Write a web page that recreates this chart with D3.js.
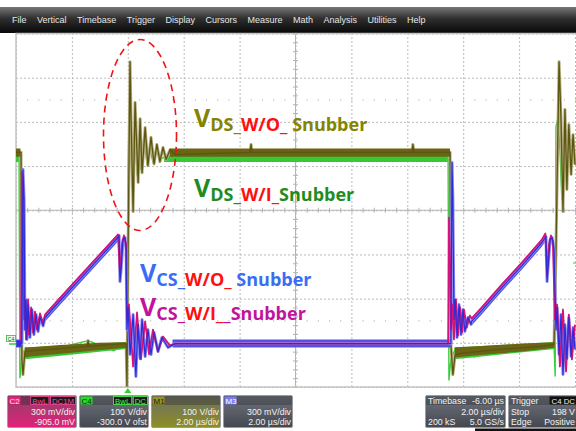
<!DOCTYPE html>
<html>
<head>
<meta charset="utf-8">
<script src="https://cdn.jsdelivr.net/npm/d3@7"></script>
<style>
  body { margin: 0; background: #fff; }
  svg { display: block; }
</style>
</head>
<body>
<svg></svg>
<script>
// menu + status box texts
const menuItems = ['File', 'Vertical', 'Timebase', 'Trigger', 'Display', 'Cursors', 'Measure', 'Math', 'Analysis', 'Utilities', 'Help']
const chanNames = ['C2', 'C4', 'M1', 'M3']
const chanTags = [['BwL', 'DC1M'], ['BwL', 'DC'], [], []]
const chanLine1 = ['300 mV/div', '100 V/div', '100 V/div', '300 mV/div']
const chanLine2 = ['-905.0 mV', '-300.0 V ofst', '2.00 µs/div', '2.00 µs/div']
const tbHeader = ['Timebase', '-6.00 µs']
const tbRows = [['', '2.00 µs/div'], ['200 kS', '5.0 GS/s']]
const trigHeader = ['Trigger', 'C4 DC']
const trigRows = [['Stop', '198 V'], ['Edge', 'Positive']]

// graticule: 2 us/div, 100 V/div (centre 300 V)
const divTimes = [-4, -2, 0, 2, 4, 6, 8, 10, 12, 14, 16]
const divVolts = [-100, 0, 100, 200, 300, 400, 500, 600, 700]

// label texts (big V + subscript pieces)
const labelSubs = [
  ['DS_', 'W/O_', '\u00a0Snubber'],
  ['DS_', 'W/I_', 'Snubber'],
  ['CS_', 'W/O_', '\u00a0Snubber'],
  ['CS_', 'W/I_', '_Snubber']
]

// VDS without snubber (M1), [time us, volts]
const vdsWo = [
  [-4.0, 431], [-3.86, 431], [-3.82, 431], [-3.79, -38], [-3.75, -72], [-3.71, -42], [-3.68, -19],
  [-3.5, -19], [-2.43, -13], [-1.46, -8], [-1.42, 5], [-1.39, -8], [-0.99, -6], [-0.06, -2],
  [-0.03, -98], [0.01, 211], [0.08, 636], [0.11, 527], [0.19, 297], [0.26, 544], [0.37, 363],
  [0.44, 507], [0.51, 385], [0.62, 487], [0.72, 401], [0.83, 465], [0.94, 405], [1.04, 449],
  [1.15, 410], [1.26, 442], [1.37, 415], [1.51, 437], [1.69, 426], [4.37, 431], [4.41, 449],
  [4.44, 431], [10.17, 431], [10.2, 449], [10.24, 431], [11.53, 431], [11.56, -4], [11.63, -72],
  [11.71, -28], [11.89, -24], [13.32, -15], [14.75, -8], [15.25, -4], [15.32, 211], [15.43, 636],
  [15.5, 505], [15.57, 297], [15.64, 528], [15.71, 347], [15.78, 494], [15.86, 381], [15.93, 471],
  [16.0, 403]
]
// VDS with snubber (C4)
const vdsWi = [
  [-4.0, 419], [-3.89, 419], [-3.86, -79], [-3.82, -56], [-3.79, -20], [-3.5, -15], [-2.9, -30],
  [-2.5, -12], [-1.42, 5], [-0.5, -18], [-0.06, -2], [-0.03, -100], [0.01, 369], [0.04, 500],
  [0.11, 460], [0.19, 363], [0.26, 487], [0.33, 380], [0.4, 471], [0.47, 392], [0.58, 460],
  [0.69, 403], [0.79, 442], [0.9, 408], [1.01, 437], [1.15, 415], [1.33, 421], [1.69, 419],
  [11.46, 419], [11.49, -84], [11.56, -38], [11.71, -15], [12.4, -32], [13.5, -10], [15.25, -4],
  [15.29, -75], [15.32, 489], [15.39, 509], [15.46, 437], [15.53, 324], [15.61, 460], [15.68, 392],
  [15.75, 482], [15.82, 403], [15.89, 460], [16.0, 415]
]
// CS without snubber (M3), [time us, mV]
const csWo = [
  [-4.0, 0], [-3.79, 0], [-3.75, 1181], [-3.71, 977], [-3.68, 95], [-3.64, 299], [-3.61, 28],
  [-3.57, 265], [-3.5, 41], [-3.43, 231], [-3.36, 61], [-3.28, 197], [-3.21, 82], [-3.14, 177],
  [-3.03, 120], [-2.96, 177], [-2.43, 289], [-1.71, 438], [-0.99, 587], [-0.35, 720],
  [-0.31, 734], [-0.28, 421], [-0.24, 502], [-0.17, 706], [-0.1, 720], [-0.06, 638], [-0.03, 95],
  [0.01, 245], [0.08, -74], [0.11, -7], [0.19, 197], [0.29, -224], [0.36, 129], [0.44, -103],
  [0.51, 163], [0.62, -88], [0.72, 95], [0.83, -74], [0.94, 75], [1.08, -54], [1.22, 41],
  [1.44, -27], [1.69, 0], [11.56, 0], [11.6, 1229], [11.63, 977], [11.67, 163], [11.71, 299],
  [11.78, 41], [11.85, 265], [11.92, 61], [11.99, 231], [12.06, 82], [12.17, 177], [12.28, 130],
  [12.3, 150], [12.66, 224], [13.38, 380], [14.1, 529], [14.82, 686], [14.96, 727],
  [15.0, 421], [15.03, 502], [15.11, 706], [15.18, 720], [15.25, 638], [15.32, 95], [15.36, 245],
  [15.43, -74], [15.5, 197], [15.57, -210], [15.64, 129], [15.71, -103], [15.78, 177], [15.86, -88],
  [15.93, 109], [16.0, -40]
]
// CS with snubber (C2)
const csWi = [
  [-4.0, 0], [-3.82, 0], [-3.79, 1167], [-3.75, 773], [-3.71, 163], [-3.68, 217], [-3.64, 28],
  [-3.57, 299], [-3.54, 61], [-3.46, 245], [-3.39, 75], [-3.32, 217], [-3.25, 95], [-3.14, 204],
  [-3.03, 140], [-2.96, 197], [-2.43, 309], [-1.71, 458], [-0.99, 607], [-0.35, 740], [-0.28, 469],
  [-0.21, 672], [-0.14, 734], [-0.06, 672], [-0.03, 163], [0.04, 265], [0.19, -156], [0.33, 211],
  [0.47, -108], [0.62, 150], [0.76, -74], [0.9, 95], [1.08, -54], [1.26, 48], [1.51, -14],
  [1.72, 0], [11.46, 0], [11.49, 855], [11.53, 570], [11.56, 95], [11.6, 265], [11.67, 28],
  [11.74, 299], [11.81, 54], [11.89, 245], [11.96, 75], [12.03, 231], [12.13, 109], [12.24, 190],
  [12.3, 170], [12.66, 244], [13.38, 400], [14.1, 549], [14.82, 706], [14.94, 747], [15.0, 462],
  [15.07, 672], [15.14, 734], [15.21, 693], [15.28, 163], [15.36, 265], [15.46, -156], [15.57, 231],
  [15.68, -190], [15.78, 197], [15.89, -108], [16.0, 129]
]
// noise envelopes of the flat parts, [time, low, high]; null breaks a segment
const vdsWoBand = [
  [-4.0, 421, 440], [-3.84, 421, 440], null,
  [-3.68, -33, -10], [-3.5, -31, -10], [-2.4, -25, -5], [-1.0, -16, 0], [-0.06, -11, 1], null,
  [1.5, 421, 440], [11.53, 421, 440], null,
  [11.7, -33, -10], [12.5, -28, -8], [14.0, -20, -2], [15.27, -11, 1]
]
const vdsWiBand = [
  [-4.0, 409, 424], [-3.9, 409, 424], null,
  [-3.7, -37, -11], [-2.4, -29, -6], [-0.06, -14, 2], null,
  [1.3, 409, 424], [11.45, 409, 424], null,
  [11.68, -37, -11], [12.5, -32, -8], [15.27, -14, 2]
]
const csWoBand = [
  [-4.0, -27, 27], [-3.8, -27, 27], null,
  [1.6, -27, 27], [11.55, -27, 27], null,
  [-2.96, 150, 204], [-2.43, 262, 316], [-1.71, 411, 465], [-0.99, 560, 614], [-0.35, 693, 747], null,
  [12.3, 123, 177], [12.66, 197, 251], [13.38, 353, 407], [14.1, 502, 556], [14.82, 659, 713], [14.96, 700, 754]
]

const W = 576
const H = 431
const plot = {x0: 16, x1: 575, y0: 33.5, y1: 387}

const svg = d3.select('svg').attr('width', W).attr('height', H)
const defs = svg.append('defs')

function gradient (id, stops) {
  let lg = defs.append('linearGradient').attr('id', id)
    .attr('x1', 0).attr('y1', 0).attr('x2', 0).attr('y2', 1)
  stops.forEach(s => lg.append('stop').attr('offset', s[0]).attr('stop-color', s[1]))
}
gradient('menuGrad', [[0, '#777'], [0.45, '#2e2e2e'], [1, '#080808']])
gradient('boxGray', [[0, '#70747e'], [1, '#44474f']])
gradient('boxPink', [[0, '#8a4466'], [1, '#e4207a']])
gradient('boxOlive', [[0, '#6c6e66'], [1, '#8e8e24']])

// ---- menu bar
svg.append('rect').attr('x', 0).attr('y', 7).attr('width', W).attr('height', 26).attr('fill', 'url(#menuGrad)')
{
  let mx = 12
  menuItems.forEach(m => {
    let t = svg.append('text').attr('x', mx).attr('y', 23)
      .attr('font-family', 'Liberation Sans, Arial, sans-serif').attr('font-size', 9)
      .attr('fill', '#e6e6e6').text(m)
    mx += t.node().getComputedTextLength() + 10.5
  })
}

// ---- scales
const x = d3.scaleLinear().domain([-4, 16]).range([plot.x0, plot.x1])
const yV = d3.scaleLinear().domain([-100, 700]).range([plot.y1, plot.y0])
const yI = d3.scaleLinear().domain([-295, 2105]).range([plot.y1, plot.y0])

// ---- graticule
let grid = svg.append('g')
grid.append('g').attr('transform', `translate(0,${plot.y1})`)
  .call(d3.axisBottom(x).tickValues(divTimes).tickSize(-(plot.y1 - plot.y0)).tickFormat(''))
grid.append('g').attr('transform', `translate(${plot.x0},0)`)
  .call(d3.axisLeft(yV).tickValues(divVolts).tickSize(-(plot.x1 - plot.x0)).tickFormat(''))
grid.selectAll('.domain').remove()
grid.selectAll('line').attr('stroke', '#bcbcbc').attr('stroke-dasharray', '2,2')

const minorTimes = d3.range(-4, 16.01, 0.4)
const minorVolts = d3.range(-100, 700.1, 20)
// dotted rows at +-2.5 div
;[50, 550].forEach(v => {
  let r = grid.append('g').attr('transform', `translate(0,${yV(v) - 0.5})`)
    .call(d3.axisBottom(x).tickValues(minorTimes).tickSize(1.2).tickFormat(''))
  r.select('.domain').remove()
  r.selectAll('line').attr('stroke', '#b0b0b0')
})
// centre axes with minor ticks
grid.append('line').attr('x1', plot.x0).attr('x2', plot.x1).attr('y1', yV(300)).attr('y2', yV(300))
  .attr('stroke', '#b4b4b4')
grid.append('line').attr('x1', x(6)).attr('x2', x(6)).attr('y1', plot.y0).attr('y2', plot.y1)
  .attr('stroke', '#b4b4b4')
let cx = grid.append('g').attr('transform', `translate(0,${yV(300) - 2.5})`)
  .call(d3.axisBottom(x).tickValues(minorTimes).tickSize(5).tickFormat(''))
let cy = grid.append('g').attr('transform', `translate(${x(6) + 2.5},0)`)
  .call(d3.axisLeft(yV).tickValues(minorVolts).tickSize(5).tickFormat(''))
cx.select('.domain').remove()
cy.select('.domain').remove()
cx.selectAll('line').attr('stroke', '#b4b4b4')
cy.selectAll('line').attr('stroke', '#b4b4b4')

// frame
svg.append('rect').attr('x', plot.x0).attr('y', plot.y0).attr('width', plot.x1 - plot.x0 + 4)
  .attr('height', plot.y1 - plot.y0).attr('fill', 'none').attr('stroke', '#c4c4c4').attr('stroke-width', 1.5)

// ---- traces
defs.append('clipPath').attr('id', 'clip').append('rect')
  .attr('x', plot.x0).attr('y', plot.y0).attr('width', plot.x1 - plot.x0 + 1).attr('height', plot.y1 - plot.y0)
let tr = svg.append('g').attr('clip-path', 'url(#clip)')

function band (ys) {
  return d3.area().defined(d => d).x(d => x(d[0])).y0(d => ys(d[1])).y1(d => ys(d[2]))
}
function trace (ys) {
  return d3.line().x(d => x(d[0])).y(d => ys(d[1]))
}

tr.append('path').attr('d', band(yV)(vdsWiBand)).attr('fill', '#36c936')
tr.append('path').attr('d', trace(yV)(vdsWi)).attr('fill', 'none').attr('stroke', '#36cc36')
  .attr('stroke-width', 1.4).attr('stroke-linejoin', 'round')
tr.append('path').attr('d', trace(yV)(vdsWo)).attr('fill', 'none').attr('stroke', '#b4ae80')
  .attr('stroke-width', 3).attr('stroke-linejoin', 'round')
tr.append('path').attr('d', band(yV)(vdsWoBand)).attr('fill', '#6a6414')
tr.append('path').attr('d', trace(yV)(vdsWo)).attr('fill', 'none').attr('stroke', '#5c5610')
  .attr('stroke-width', 1.3).attr('stroke-linejoin', 'round')

tr.append('path').attr('d', band(yI)(csWoBand)).attr('fill', '#5252e8')
tr.append('path').attr('d', trace(yI)(csWo)).attr('fill', 'none').attr('stroke', '#8a8af4')
  .attr('stroke-width', 3).attr('stroke-linejoin', 'round')
tr.append('path').attr('d', trace(yI)(csWi)).attr('fill', 'none').attr('stroke', '#d41478')
  .attr('stroke-width', 1.8).attr('stroke-linejoin', 'round')
tr.append('path').attr('d', trace(yI)(csWo)).attr('fill', 'none').attr('stroke', '#2c2cd8')
  .attr('stroke-width', 1.2).attr('stroke-linejoin', 'round')

// ---- red dashed ellipse
svg.append('ellipse').attr('cx', 140).attr('cy', 135).attr('rx', 36.5).attr('ry', 95.5)
  .attr('fill', 'none').attr('stroke', '#f01414').attr('stroke-width', 1.6).attr('stroke-dasharray', '7,5')

// ---- labels
const labelColors = ['#848400', '#1e8c1e', '#3a6cf4', '#c0149c']
const labelPos = [[194, 127], [194, 197], [140, 282], [140, 316]]
labelSubs.forEach((parts, i) => {
  let t = svg.append('text').attr('x', labelPos[i][0]).attr('y', labelPos[i][1])
    .attr('font-family', 'Open Sans, sans-serif').attr('font-weight', 'bold')
  t.append('tspan').attr('font-size', 25).attr('fill', labelColors[i]).text('V')
  parts.forEach((p, j) => {
    let s = t.append('tspan').attr('font-size', 18).attr('fill', j === 1 ? '#ff1010' : labelColors[i]).text(p)
    if (j === 0) s.attr('dy', 4)
  })
})

// ---- left / right markers
svg.append('rect').attr('x', 6.5).attr('y', 335.5).attr('width', 9).attr('height', 6)
  .attr('fill', '#e8f8e8').attr('stroke', '#30c030').attr('stroke-width', 0.8)
svg.append('text').attr('x', 11).attr('y', 340.6).attr('text-anchor', 'middle')
  .attr('font-family', 'Liberation Sans, Arial, sans-serif').attr('font-size', 5).attr('fill', '#206020').text('C4')
svg.append('line').attr('x1', 9).attr('x2', 17).attr('y1', 344).attr('y2', 344).attr('stroke', '#30d030').attr('stroke-width', 1.5)
svg.append('rect').attr('x', 16.5).attr('y', yI(0) - 3).attr('width', 5).attr('height', 6).attr('fill', '#3030e0')
svg.append('line').attr('x1', 573).attr('x2', 576).attr('y1', 263).attr('y2', 263).attr('stroke', '#30d030')
// trigger position marker
svg.append('path').attr('d', `M${x(0)},388 l3.5,5 h-7 z`).attr('fill', '#30d030')

// ---- status boxes
const boxY = 395
const boxH = 33
const font = 'Liberation Sans, Arial, sans-serif'
const labelFill = ['#e8227c', '#22dd22', '#92922c', '#7b7bf0']
const labelInk = ['#ffe0ef', '#063006', '#1e1e06', '#ffffff']
const tagInk = ['#ff4aa0', '#40ff40']
const boxFill = ['url(#boxPink)', 'url(#boxGray)', 'url(#boxOlive)', 'url(#boxGray)']

function boxBase (bx, bw, fill) {
  let g = svg.append('g')
  g.append('rect').attr('x', bx + 0.5).attr('y', boxY + 0.5).attr('width', bw - 1).attr('height', boxH - 1)
    .attr('rx', 1.5).attr('fill', fill).attr('stroke', '#9a9ca4')
  g.append('rect').attr('x', bx + 1).attr('y', boxY + 1).attr('width', bw - 2).attr('height', 9)
    .attr('fill', '#000').attr('opacity', 0.22)
  return g
}
function txt (g, tx, ty, s, anchor, fill) {
  return g.append('text').attr('x', tx).attr('y', ty).attr('text-anchor', anchor || 'start')
    .attr('font-family', font).attr('font-size', 8.8).attr('fill', fill || '#f2f2f2').text(s)
}

chanNames.forEach((name, i) => {
  let bx = 7 + i * 72
  let bw = 70
  let g = boxBase(bx, bw, boxFill[i])
  g.append('rect').attr('x', bx + 1.5).attr('y', boxY + 1.5).attr('width', 12).attr('height', 8).attr('fill', labelFill[i])
  txt(g, bx + 2.5, boxY + 8.6, name, 'start', labelInk[i]).attr('font-size', 8)
  let tx = bx + bw - 1.5
  chanTags[i].slice().reverse().forEach(tag => {
    let t = txt(g, tx - 1.5, boxY + 8.6, tag, 'end', tagInk[i]).attr('font-size', 7.8)
    let tw = t.node().getComputedTextLength()
    g.insert('rect', 'text').attr('x', tx - tw - 3).attr('y', boxY + 1.5).attr('width', tw + 3).attr('height', 8)
      .attr('fill', '#1a1a1a').attr('stroke', tagInk[i]).attr('stroke-width', 0.8)
    tx -= tw + 4.5
  })
  txt(g, bx + bw - 2, boxY + 19.5, chanLine1[i], 'end')
  txt(g, bx + bw - 2, boxY + 30, chanLine2[i], 'end')
})

{
  let bx = 425
  let bw = 81
  let g = boxBase(bx, bw, 'url(#boxGray)')
  txt(g, bx + 3, boxY + 8.6, tbHeader[0])
  txt(g, bx + bw - 2, boxY + 8.6, tbHeader[1], 'end')
  tbRows.forEach((r, j) => {
    txt(g, bx + 3, boxY + 19.5 + j * 10.5, r[0])
    txt(g, bx + bw - 2, boxY + 19.5 + j * 10.5, r[1], 'end')
  })
}
{
  let bx = 508
  let bw = 70
  let g = boxBase(bx, bw, 'url(#boxGray)')
  txt(g, bx + 3, boxY + 8.6, trigHeader[0])
  let t = txt(g, 575, boxY + 8.6, trigHeader[1], 'end', '#f0f0f0').attr('font-size', 7.8)
  let tw = t.node().getComputedTextLength()
  g.insert('rect', 'text').attr('x', 575 - tw - 2).attr('y', boxY + 1.5).attr('width', tw + 3).attr('height', 8).attr('fill', '#111')
  trigRows.forEach((r, j) => {
    txt(g, bx + 3, boxY + 19.5 + j * 10.5, r[0])
    txt(g, 575, boxY + 19.5 + j * 10.5, r[1], 'end')
  })
}
svg.append('rect').attr('x', 475).attr('y', 428.5).attr('width', 101).attr('height', 3).attr('fill', '#111')
</script>
</body>
</html>
